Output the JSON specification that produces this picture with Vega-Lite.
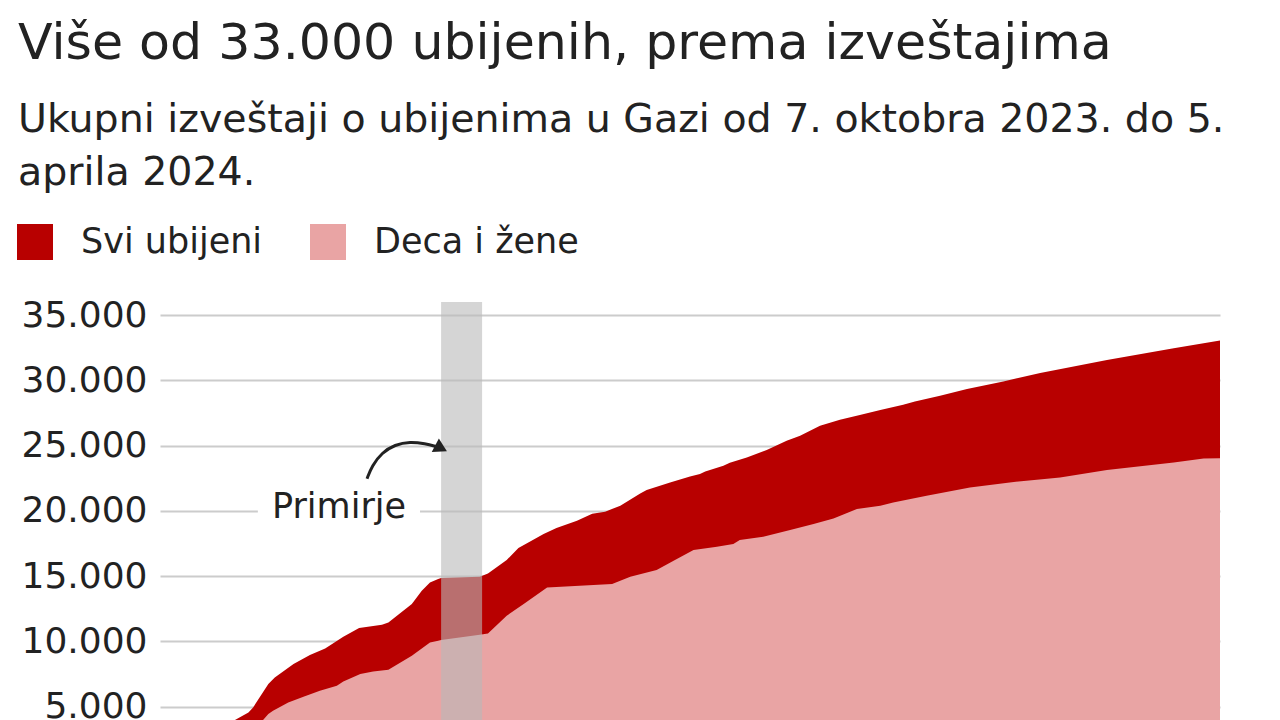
{
  "$schema": "https://vega.github.io/schema/vega-lite/v6.json",
  "width": 1060,
  "height": 470,
  "autosize": {"type": "none"},
  "padding": {"left": 160, "top": 302, "right": 60, "bottom": 0},
  "background": "white",
  "title": {
    "text": "Više od 33.000 ubijenih, prema izveštajima",
    "subtitle": ["Ukupni izveštaji o ubijenima u Gazi od 7. oktobra 2023. do 5.", "aprila 2024."],
    "anchor": "start",
    "frame": "group",
    "dx": -142,
    "offset": 32,
    "font": "DejaVu Sans",
    "fontSize": 50.6,
    "fontWeight": "normal",
    "color": "#222222",
    "subtitleFont": "DejaVu Sans",
    "subtitleFontSize": 39.5,
    "subtitleColor": "#222222",
    "subtitleLineHeight": 53,
    "subtitlePadding": 31
  },
  "config": {
    "view": {"stroke": null},
    "font": "DejaVu Sans"
  },
  "datasets": {
    "total": [
      {"date": "2023-10-07T00:00:00", "killed": 500},
      {"date": "2023-10-09T00:00:00", "killed": 800},
      {"date": "2023-10-11T00:00:00", "killed": 1400},
      {"date": "2023-10-13T00:00:00", "killed": 2200},
      {"date": "2023-10-15T00:00:00", "killed": 2700},
      {"date": "2023-10-17T00:00:00", "killed": 3000},
      {"date": "2023-10-18T12:00:00", "killed": 3500},
      {"date": "2023-10-19T19:12:00", "killed": 3983},
      {"date": "2023-10-22T02:24:00", "killed": 4565},
      {"date": "2023-10-22T21:36:00", "killed": 4948},
      {"date": "2023-10-25T12:00:00", "killed": 6741},
      {"date": "2023-10-26T14:24:00", "killed": 7246},
      {"date": "2023-10-29T19:12:00", "killed": 8273},
      {"date": "2023-11-01T14:24:00", "killed": 8962},
      {"date": "2023-11-04T04:48:00", "killed": 9468},
      {"date": "2023-11-07T07:12:00", "killed": 10364},
      {"date": "2023-11-10T00:00:00", "killed": 11030},
      {"date": "2023-11-13T21:36:00", "killed": 11283},
      {"date": "2023-11-15T00:00:00", "killed": 11459},
      {"date": "2023-11-19T00:00:00", "killed": 12869},
      {"date": "2023-11-20T16:48:00", "killed": 13888},
      {"date": "2023-11-22T02:24:00", "killed": 14523},
      {"date": "2023-11-23T12:00:00", "killed": 14784},
      {"date": "2023-11-24T00:00:00", "killed": 14860},
      {"date": "2023-11-30T14:24:00", "killed": 14960},
      {"date": "2023-12-02T00:00:00", "killed": 15213},
      {"date": "2023-12-05T04:48:00", "killed": 16239},
      {"date": "2023-12-07T04:48:00", "killed": 17158},
      {"date": "2023-12-09T04:48:00", "killed": 17664},
      {"date": "2023-12-11T12:00:00", "killed": 18231},
      {"date": "2023-12-13T16:48:00", "killed": 18690},
      {"date": "2023-12-17T04:48:00", "killed": 19250},
      {"date": "2023-12-19T19:12:00", "killed": 19786},
      {"date": "2023-12-22T00:00:00", "killed": 19939},
      {"date": "2023-12-24T14:24:00", "killed": 20400},
      {"date": "2023-12-28T00:00:00", "killed": 21341},
      {"date": "2023-12-29T02:24:00", "killed": 21601},
      {"date": "2024-01-02T02:24:00", "killed": 22183},
      {"date": "2024-01-05T12:00:00", "killed": 22643},
      {"date": "2024-01-07T04:48:00", "killed": 22827},
      {"date": "2024-01-08T02:24:00", "killed": 23026},
      {"date": "2024-01-11T04:48:00", "killed": 23463},
      {"date": "2024-01-12T07:12:00", "killed": 23692},
      {"date": "2024-01-15T04:48:00", "killed": 24098},
      {"date": "2024-01-18T14:24:00", "killed": 24665},
      {"date": "2024-01-22T00:00:00", "killed": 25377},
      {"date": "2024-01-24T07:12:00", "killed": 25760},
      {"date": "2024-01-27T16:48:00", "killed": 26526},
      {"date": "2024-01-31T02:24:00", "killed": 26986},
      {"date": "2024-02-03T12:00:00", "killed": 27346},
      {"date": "2024-02-07T00:00:00", "killed": 27729},
      {"date": "2024-02-10T21:36:00", "killed": 28135},
      {"date": "2024-02-12T21:36:00", "killed": 28388},
      {"date": "2024-02-17T04:48:00", "killed": 28824},
      {"date": "2024-02-21T19:12:00", "killed": 29338},
      {"date": "2024-02-28T00:00:00", "killed": 29920},
      {"date": "2024-03-05T07:12:00", "killed": 30563},
      {"date": "2024-03-16T16:48:00", "killed": 31559},
      {"date": "2024-03-28T02:24:00", "killed": 32448},
      {"date": "2024-04-05T00:00:00", "killed": 33050}
    ],
    "women": [
      {"date": "2023-10-07T00:00:00", "killed": 150},
      {"date": "2023-10-10T00:00:00", "killed": 700},
      {"date": "2023-10-13T00:00:00", "killed": 1500},
      {"date": "2023-10-16T00:00:00", "killed": 2200},
      {"date": "2023-10-19T00:00:00", "killed": 2900},
      {"date": "2023-10-22T00:00:00", "killed": 3500},
      {"date": "2023-10-24T14:24:00", "killed": 3983},
      {"date": "2023-10-25T12:00:00", "killed": 4443},
      {"date": "2023-10-26T07:12:00", "killed": 4696},
      {"date": "2023-10-28T21:36:00", "killed": 5331},
      {"date": "2023-10-31T12:00:00", "killed": 5768},
      {"date": "2023-11-03T07:12:00", "killed": 6228},
      {"date": "2023-11-06T04:48:00", "killed": 6611},
      {"date": "2023-11-07T07:12:00", "killed": 6940},
      {"date": "2023-11-10T04:48:00", "killed": 7507},
      {"date": "2023-11-12T09:36:00", "killed": 7706},
      {"date": "2023-11-15T00:00:00", "killed": 7836},
      {"date": "2023-11-19T00:00:00", "killed": 8909},
      {"date": "2023-11-22T02:24:00", "killed": 9927},
      {"date": "2023-11-23T12:00:00", "killed": 10058},
      {"date": "2023-11-24T00:00:00", "killed": 10111},
      {"date": "2023-11-30T14:24:00", "killed": 10517},
      {"date": "2023-12-02T00:00:00", "killed": 10617},
      {"date": "2023-12-05T04:48:00", "killed": 11972},
      {"date": "2023-12-08T02:24:00", "killed": 12869},
      {"date": "2023-12-12T02:24:00", "killed": 14140},
      {"date": "2023-12-23T04:48:00", "killed": 14401},
      {"date": "2023-12-26T07:12:00", "killed": 14960},
      {"date": "2023-12-30T19:12:00", "killed": 15480},
      {"date": "2024-01-02T16:48:00", "killed": 16186},
      {"date": "2024-01-06T02:24:00", "killed": 17005},
      {"date": "2024-01-10T02:24:00", "killed": 17258},
      {"date": "2024-01-12T21:36:00", "killed": 17465},
      {"date": "2024-01-14T00:00:00", "killed": 17771},
      {"date": "2024-01-18T00:00:00", "killed": 18024},
      {"date": "2024-01-22T14:24:00", "killed": 18537},
      {"date": "2024-01-26T14:24:00", "killed": 18997},
      {"date": "2024-01-30T00:00:00", "killed": 19426},
      {"date": "2024-02-03T00:00:00", "killed": 20146},
      {"date": "2024-02-07T00:00:00", "killed": 20399},
      {"date": "2024-02-09T04:48:00", "killed": 20651},
      {"date": "2024-02-14T21:36:00", "killed": 21165},
      {"date": "2024-02-22T07:12:00", "killed": 21800},
      {"date": "2024-02-29T02:24:00", "killed": 22183},
      {"date": "2024-03-08T16:48:00", "killed": 22566},
      {"date": "2024-03-16T16:48:00", "killed": 23133},
      {"date": "2024-03-28T02:24:00", "killed": 23715},
      {"date": "2024-04-02T04:48:00", "killed": 24022},
      {"date": "2024-04-05T00:00:00", "killed": 24030}
    ],
    "truce": [
      {"start": "2023-11-24T00:00:00", "end": "2023-12-01T00:00:00", "top": 36000, "bottom": 0}
    ],
    "arrow": [
      {"date": "2023-11-11T08:24:00", "v": 22467},
      {"date": "2023-11-12T04:48:00", "v": 23463},
      {"date": "2023-11-13T21:36:00", "v": 24459},
      {"date": "2023-11-16T02:24:00", "v": 25072},
      {"date": "2023-11-18T16:48:00", "v": 25301},
      {"date": "2023-11-21T06:00:00", "v": 25148},
      {"date": "2023-11-23T07:12:00", "v": 24918}
    ],
    "arrowhead": [
      {"date": "2023-11-24T00:00:00", "v": 24795}
    ],
    "label": [
      {"date": "2023-11-06T13:40:00", "v": 20322, "start": "2023-10-23T17:00:00", "end": "2023-11-20T09:36:00", "lo": 19100, "hi": 21500, "text": "Primirje"}
    ]
  },
  "layer": [
    {
      "data": {"name": "total"},
      "mark": {"type": "area", "interpolate": "linear"},
      "encoding": {
        "x": {"field": "date", "type": "temporal", "scale": {"domain": [{"year": 2023, "month": 10, "date": 7}, {"year": 2024, "month": 4, "date": 5}]}, "axis": null},
        "y": {"field": "killed", "type": "quantitative", "scale": {"domain": [0, 36000], "nice": false},
          "axis": {"title": null, "values": [0, 5000, 10000, 15000, 20000, 25000, 30000, 35000], "labelExpr": "replace(format(datum.value, ','), ',', '.')", "domain": false, "ticks": false, "grid": true, "gridColor": "#cccccc", "gridWidth": 2, "labelFont": "DejaVu Sans", "labelFontSize": 36, "labelColor": "#222222", "labelPadding": 13}},
        "color": {"datum": "Svi ubijeni", "type": "nominal",
          "scale": {"domain": ["Svi ubijeni", "Deca i žene"], "range": ["#b80000", "#e9a4a4"]},
          "legend": {"title": null, "orient": "none", "legendX": -143, "legendY": -78, "direction": "horizontal", "symbolType": "square", "symbolSize": 1296, "symbolStrokeWidth": 0, "symbolOpacity": 1, "labelFont": "DejaVu Sans", "labelFontSize": 35, "labelColor": "#222222", "labelOffset": 28, "labelLimit": 0, "columnPadding": 47, "padding": 0}}
      }
    },
    {
      "data": {"name": "women"},
      "mark": {"type": "area", "interpolate": "linear"},
      "encoding": {
        "x": {"field": "date", "type": "temporal"},
        "y": {"field": "killed", "type": "quantitative"},
        "color": {"datum": "Deca i žene", "type": "nominal"}
      }
    },
    {
      "data": {"name": "truce"},
      "mark": {"type": "rect", "color": "#b9b9b9", "opacity": 0.6},
      "encoding": {
        "x": {"field": "start", "type": "temporal"},
        "x2": {"field": "end"},
        "y": {"field": "top", "type": "quantitative"},
        "y2": {"field": "bottom"}
      }
    },
    {
      "data": {"name": "label"},
      "mark": {"type": "rect", "color": "white"},
      "encoding": {
        "x": {"field": "start", "type": "temporal"},
        "x2": {"field": "end"},
        "y": {"field": "lo", "type": "quantitative"},
        "y2": {"field": "hi"}
      }
    },
    {
      "data": {"name": "label"},
      "mark": {"type": "text", "font": "DejaVu Sans", "fontSize": 35, "color": "#222222", "align": "center", "baseline": "middle"},
      "encoding": {
        "x": {"field": "date", "type": "temporal"},
        "y": {"field": "v", "type": "quantitative"},
        "text": {"field": "text"}
      }
    },
    {
      "data": {"name": "arrow"},
      "mark": {"type": "line", "interpolate": "basis", "color": "#222222", "strokeWidth": 3},
      "encoding": {
        "x": {"field": "date", "type": "temporal"},
        "y": {"field": "v", "type": "quantitative"}
      }
    },
    {
      "data": {"name": "arrowhead"},
      "mark": {"type": "point", "shape": "triangle-right", "filled": true, "color": "#222222", "size": 230, "angle": 28, "opacity": 1},
      "encoding": {
        "x": {"field": "date", "type": "temporal"},
        "y": {"field": "v", "type": "quantitative"}
      }
    }
  ]
}
